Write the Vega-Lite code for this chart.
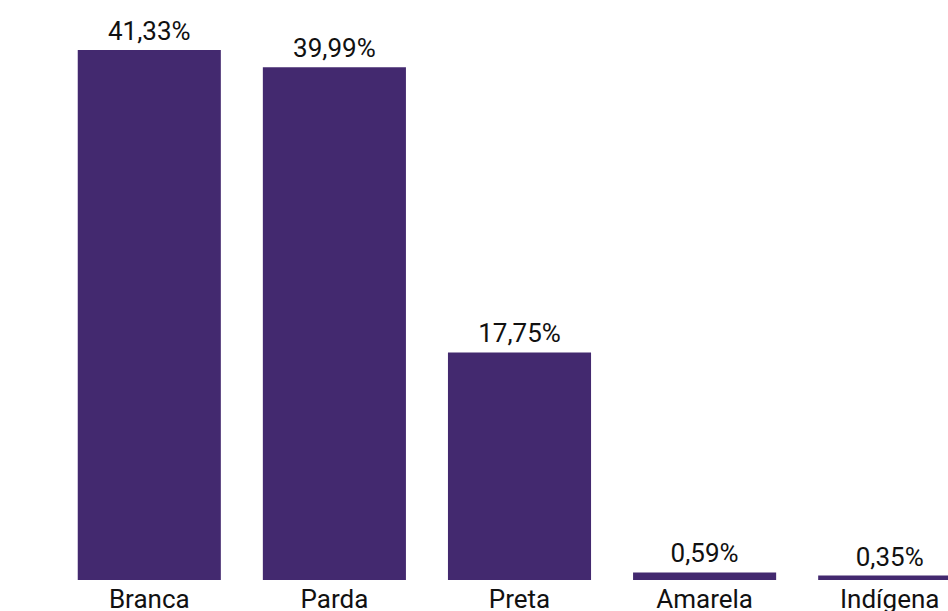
{
  "$schema": "https://vega.github.io/schema/vega-lite/v6.json",
  "width": 948,
  "height": 580,
  "autosize": "none",
  "padding": {"left": 0, "top": 0, "right": 0, "bottom": 31},
  "background": "white",
  "config": {"view": {"stroke": null}, "font": "Roboto"},
  "data": {
    "values": [
      {"raca": "Branca", "pct": 41.33, "label": "41,33%"},
      {"raca": "Parda", "pct": 39.99, "label": "39,99%"},
      {"raca": "Preta", "pct": 17.75, "label": "17,75%"},
      {"raca": "Amarela", "pct": 0.59, "label": "0,59%"},
      {"raca": "Indígena", "pct": 0.35, "label": "0,35%"}
    ]
  },
  "encoding": {
    "x": {
      "field": "raca",
      "type": "nominal",
      "sort": null,
      "scale": {"range": [0, 1039], "paddingInner": 0.227, "paddingOuter": 0.42},
      "axis": {
        "title": null,
        "domain": false,
        "ticks": false,
        "grid": false,
        "labelAngle": 0,
        "labelFont": "Roboto",
        "labelFontSize": 26,
        "labelColor": "#111111",
        "labelBaseline": "alphabetic",
        "labelPadding": 27,
        "labelOverlap": false
      }
    },
    "y": {
      "field": "pct",
      "type": "quantitative",
      "scale": {"domain": [0, 45.23], "nice": false, "zero": true},
      "axis": null
    }
  },
  "layer": [
    {"mark": {"type": "bar", "color": "#43296f"}},
    {
      "mark": {"type": "text", "baseline": "alphabetic", "dy": -10, "fontSize": 26, "font": "Roboto", "color": "#111111"},
      "encoding": {"text": {"field": "label"}}
    }
  ]
}
